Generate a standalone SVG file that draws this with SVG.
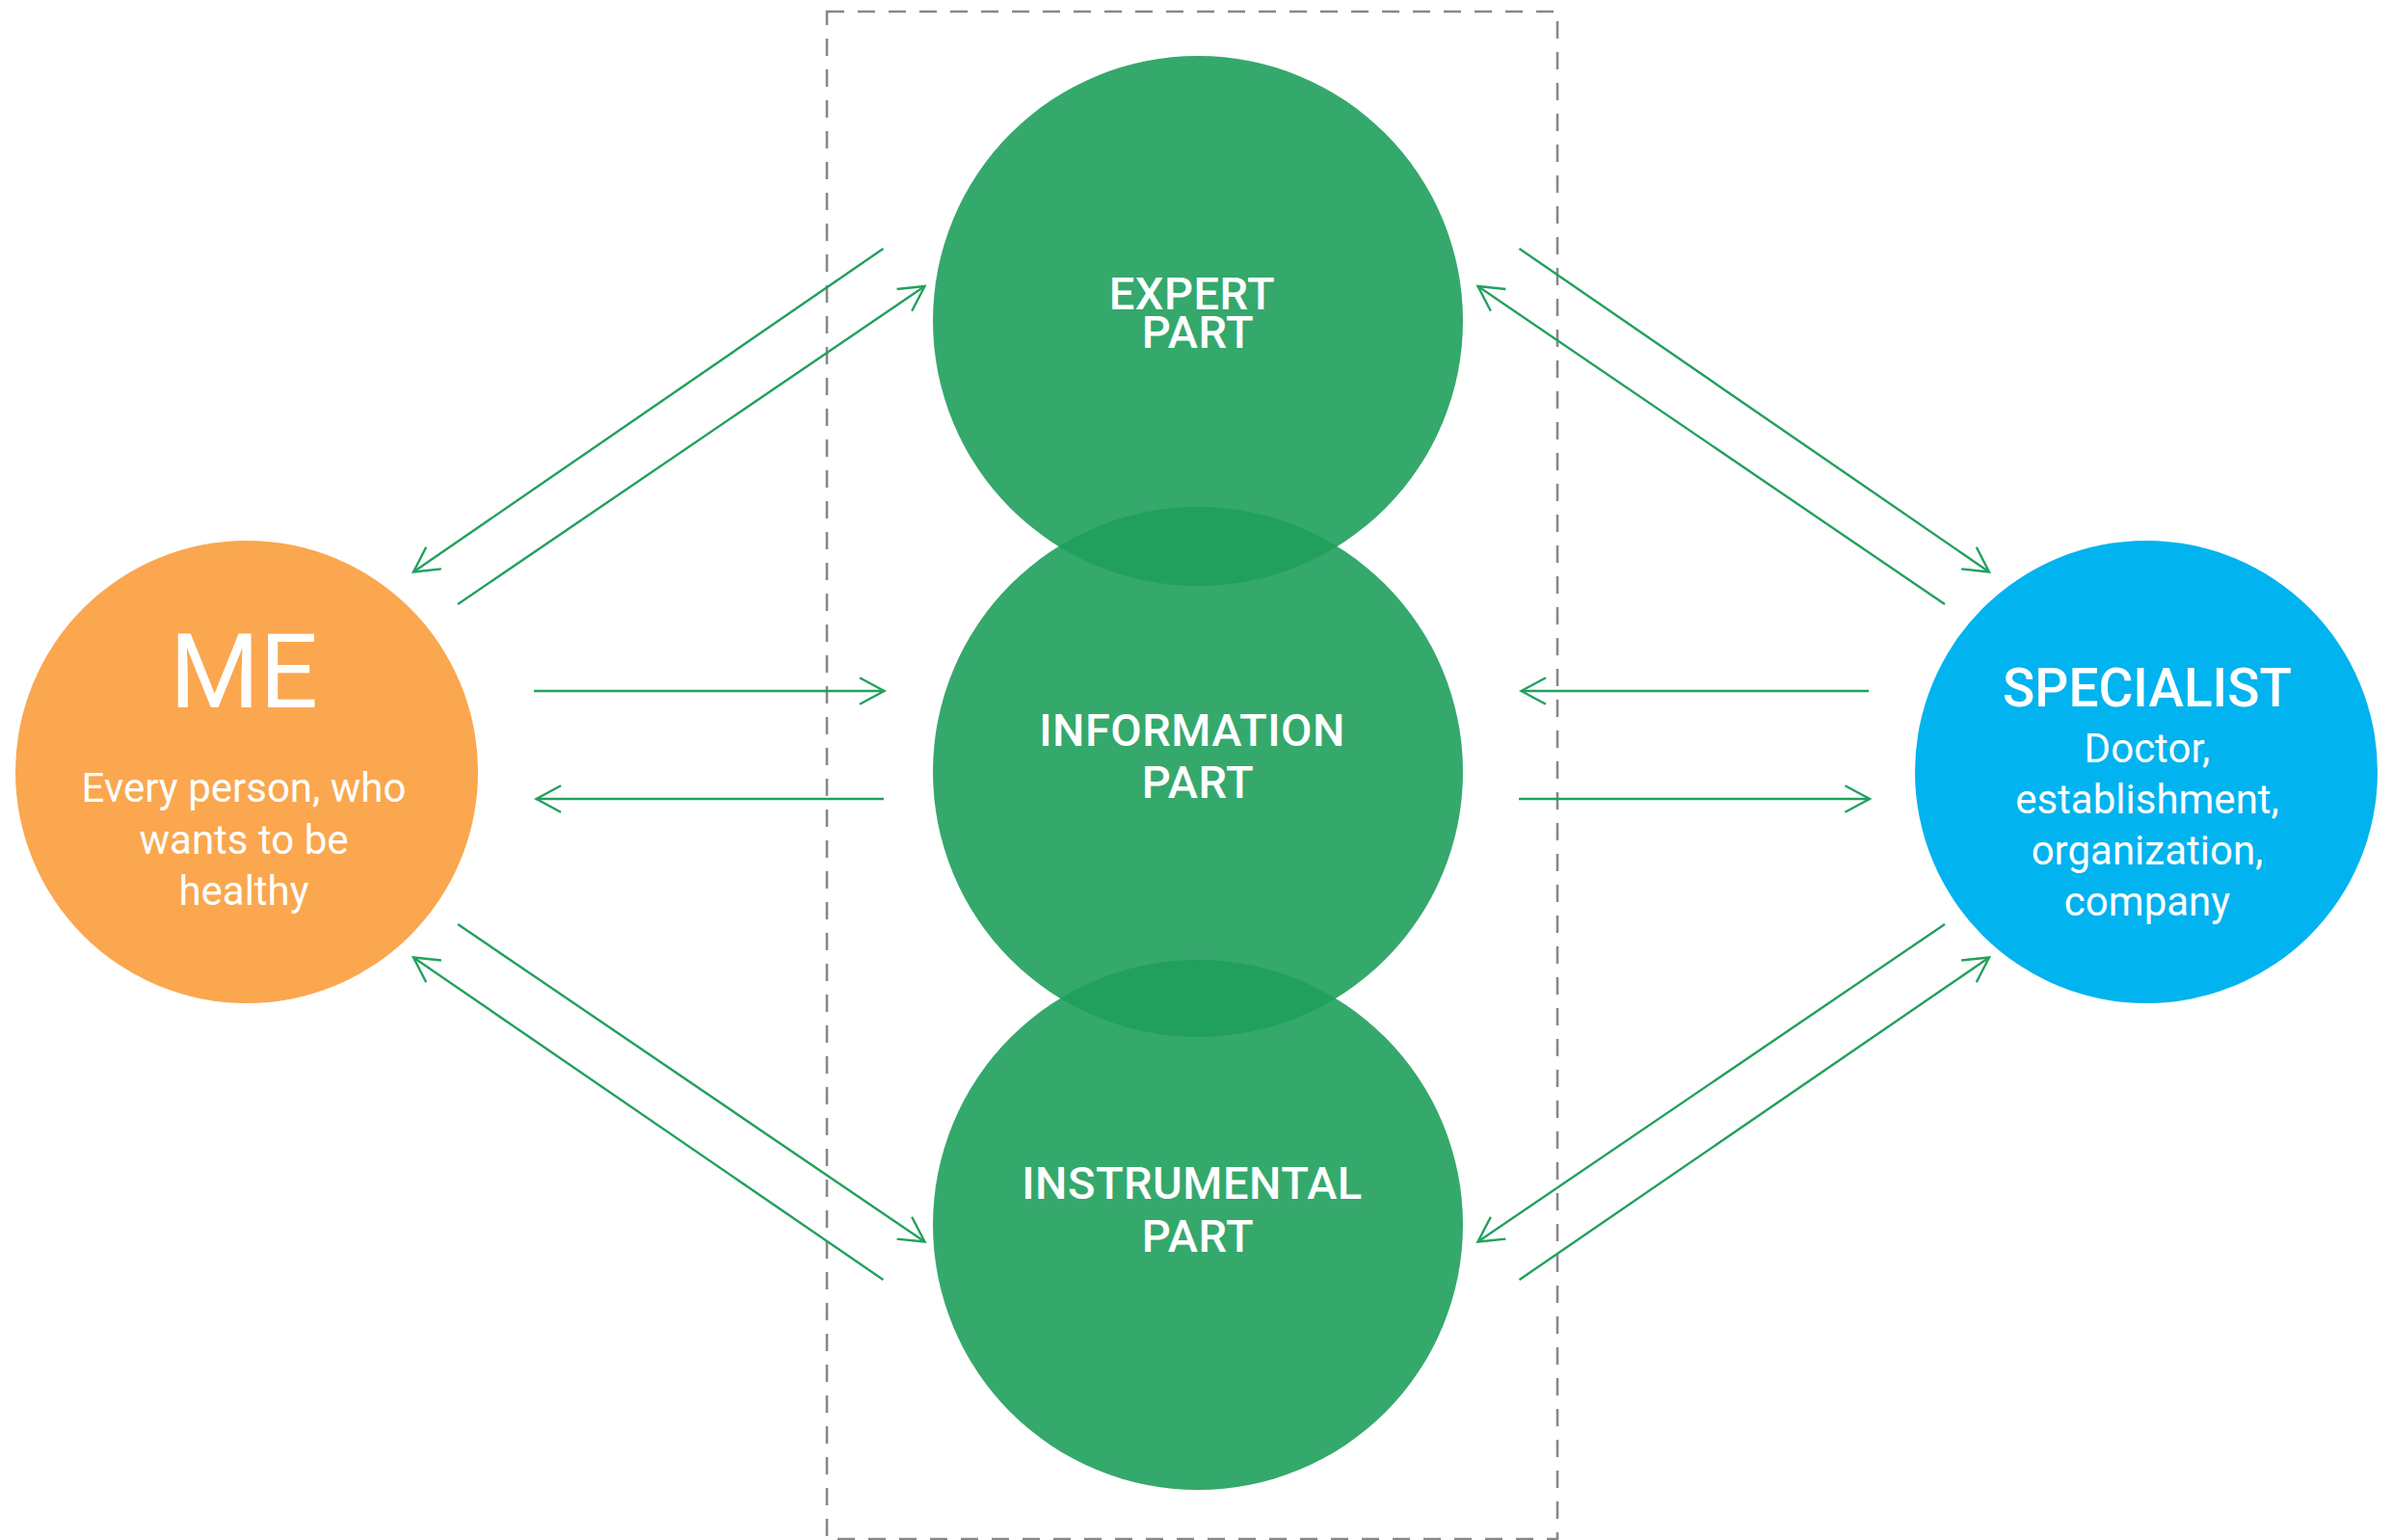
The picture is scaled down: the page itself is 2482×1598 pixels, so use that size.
<svg xmlns="http://www.w3.org/2000/svg" width="2482" height="1598" viewBox="0 0 2482 1598">
<style>
.lbl{font-family:Roboto,"Liberation Sans",sans-serif;fill:#ffffff;text-anchor:middle}
.part{font-size:47px;font-weight:500;letter-spacing:0.5px}
.sub{font-size:42px;font-weight:400}
.green{fill:#1f9e5c;fill-opacity:0.9}
.arr{stroke:#22a05e;stroke-width:2.4;fill:none;marker-end:url(#ah)}
</style>
<defs>
<marker id="ah" markerUnits="userSpaceOnUse" viewBox="-30 -16 34 32" refX="0" refY="0" markerWidth="34" markerHeight="32" orient="auto" overflow="visible">
<path d="M-25.5,-13.8 L0,0 L-25.5,13.8" fill="none" stroke="#22a05e" stroke-width="2.4"/>
</marker>
</defs>
<rect width="2482" height="1598" fill="#ffffff"/>
<rect id="frame" x="858" y="12" width="758" height="1585" fill="none" stroke="#888888" stroke-width="2.6" stroke-dasharray="18 14"/>
<g id="me">
<circle cx="256" cy="801" r="240" fill="#faa74f"/>
<text class="lbl" x="253" y="734" font-size="107" font-weight="400">ME</text>
<text class="lbl sub"><tspan x="253" y="832">Every person, who</tspan><tspan x="253" y="886">wants to be</tspan><tspan x="253" y="939">healthy</tspan></text>
</g>
<g id="specialist">
<circle cx="2227" cy="801" r="240" fill="#01b3ef"/>
<text class="lbl" x="2228" y="733" font-size="55" font-weight="500">SPECIALIST</text>
<text class="lbl sub"><tspan x="2228" y="791">Doctor,</tspan><tspan x="2228" y="844">establishment,</tspan><tspan x="2228" y="897">organization,</tspan><tspan x="2228" y="950">company</tspan></text>
</g>
<g id="expert">
<circle class="green" cx="1243" cy="333" r="275"/>
<text class="lbl part"><tspan x="1237" y="321">EXPERT</tspan><tspan x="1243" y="361">PART</tspan></text>
</g>
<g id="information">
<circle class="green" cx="1243" cy="801" r="275"/>
<text class="lbl part"><tspan x="1237" y="774">INFORMATION</tspan><tspan x="1243" y="828">PART</tspan></text>
</g>
<g id="instrumental">
<circle class="green" cx="1243" cy="1271" r="275"/>
<text class="lbl part"><tspan x="1237" y="1244">INSTRUMENTAL</tspan><tspan x="1243" y="1299">PART</tspan></text>
</g>
<g id="connectors">
<line class="arr" x1="916.5" y1="258" x2="429" y2="593.5"/>
<line class="arr" x1="475" y1="627" x2="959.5" y2="297"/>
<line class="arr" x1="1576.5" y1="258" x2="2064" y2="593.5"/>
<line class="arr" x1="2018" y1="627" x2="1533.5" y2="297"/>
<line class="arr" x1="554" y1="717" x2="917.5" y2="717"/>
<line class="arr" x1="917" y1="829" x2="556.5" y2="829"/>
<line class="arr" x1="1939" y1="717" x2="1578.5" y2="717"/>
<line class="arr" x1="1576" y1="829" x2="1940" y2="829"/>
<line class="arr" x1="475" y1="959" x2="959.5" y2="1288.5"/>
<line class="arr" x1="916.5" y1="1328" x2="429" y2="993.5"/>
<line class="arr" x1="2018" y1="959" x2="1533.5" y2="1288.5"/>
<line class="arr" x1="1576.5" y1="1328" x2="2064" y2="993.5"/>
</g>
</svg>
